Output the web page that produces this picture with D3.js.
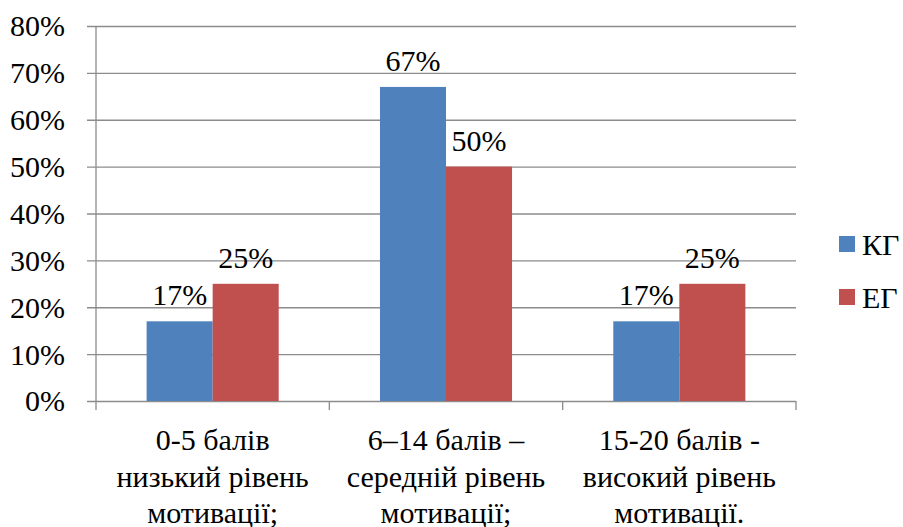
<!DOCTYPE html>
<html>
<head>
<meta charset="utf-8">
<script src="https://cdn.jsdelivr.net/npm/d3@7"></script>
<style>
  body { margin: 0; background: #fff; }
</style>
</head>
<body>
<svg id="chart" width="903" height="527"></svg>
<script>
// data
const categories = [
    ["0-5 балів", "низький рівень", "мотивації;"],
    ["6–14 балів –", "середній рівень", "мотивації;"],
    ["15-20 балів -", "високий рівень", "мотивації."]
];
const seriesNames = ["КГ", "ЕГ"];
const kgValues = [0.17, 0.67, 0.17];
const egValues = [0.25, 0.50, 0.25];
const yTicks = [0, 0.1, 0.2, 0.3, 0.4, 0.5, 0.6, 0.7, 0.8];

const colors = ["#4F81BD", "#C0504D"];
const gridColor = "#8c8c8c";
const fontName = "Liberation Serif, Tinos, Times New Roman, serif";
const fontSize = 30;

const width = 903, height = 527;
const margin = { left: 96, right: 107, top: 26, bottom: 126 };
const plotW = width - margin.left - margin.right;
const plotH = height - margin.top - margin.bottom;

const svg = d3.select("#chart")
    .attr("font-family", fontName);

const x = d3.scaleBand()
    .domain(d3.range(categories.length))
    .range([0, plotW])
    .paddingInner(0.434)
    .paddingOuter(0.217);

const xs = d3.scaleBand()
    .domain(seriesNames)
    .range([0, x.bandwidth()]);

const y = d3.scaleLinear()
    .domain([0, 0.8])
    .range([plotH, 0]);

const g = svg.append("g")
    .attr("transform", `translate(${margin.left},${margin.top})`);

// gridlines + y axis
const yAxis = g.append("g")
    .call(d3.axisLeft(y).tickValues(yTicks).tickSize(-plotW).tickFormat(d3.format(".0%")).tickPadding(31));
yAxis.attr("font-family", fontName).attr("font-size", fontSize);
yAxis.select(".domain").remove();
yAxis.selectAll(".tick line")
    .attr("x1", -9)
    .attr("stroke", gridColor)
    .attr("stroke-width", 1.3);
yAxis.selectAll(".tick text")
    .attr("fill", "#000")
    .attr("dy", "0.33em");

g.append("line")
    .attr("x1", 0).attr("x2", 0)
    .attr("y1", 0).attr("y2", plotH)
    .attr("stroke", gridColor)
    .attr("stroke-width", 1.3);

// category separators on x axis
const step = plotW / categories.length;
g.append("g")
    .selectAll("line")
    .data(d3.range(categories.length + 1))
    .join("line")
    .attr("x1", d => d * step).attr("x2", d => d * step)
    .attr("y1", plotH).attr("y2", plotH + 9)
    .attr("stroke", gridColor)
    .attr("stroke-width", 1.3);

// bars
const rows = categories.map((c, i) => [
    { s: seriesNames[0], v: kgValues[i], c: colors[0] },
    { s: seriesNames[1], v: egValues[i], c: colors[1] }
]);

const groups = g.selectAll(".grp")
    .data(rows)
    .join("g")
    .attr("class", "grp")
    .attr("transform", (d, i) => `translate(${x(i)},0)`);

groups.selectAll("rect")
    .data(d => d)
    .join("rect")
    .attr("x", d => xs(d.s))
    .attr("y", d => y(d.v))
    .attr("width", xs.bandwidth())
    .attr("height", d => plotH - y(d.v))
    .attr("fill", d => d.c);

groups.selectAll(".lbl")
    .data(d => d)
    .join("text")
    .attr("class", "lbl")
    .attr("x", d => xs(d.s) + xs.bandwidth() / 2)
    .attr("y", d => y(d.v) - 16)
    .attr("text-anchor", "middle")
    .attr("font-size", fontSize)
    .text(d => Math.round(d.v * 100) + "%");

// category labels
const catLabels = g.append("g")
    .selectAll("text")
    .data(categories)
    .join("text")
    .attr("text-anchor", "middle")
    .attr("x", (d, i) => x(i) + x.bandwidth() / 2)
    .attr("y", plotH + 49)
    .attr("font-size", fontSize);

catLabels.selectAll("tspan")
    .data(d => d)
    .join("tspan")
    .attr("x", function () { return d3.select(this.parentNode).attr("x"); })
    .attr("dy", (d, i) => i === 0 ? 0 : 36.5)
    .text(d => d);

// legend
const legend = svg.append("g")
    .attr("transform", "translate(839,236)");

const li = legend.selectAll("g")
    .data(seriesNames)
    .join("g")
    .attr("transform", (d, i) => `translate(0,${i * 53})`);

li.append("rect")
    .attr("width", 16).attr("height", 16)
    .attr("fill", (d, i) => colors[i]);

li.append("text")
    .attr("x", 23)
    .attr("y", 8)
    .attr("dy", "0.35em")
    .attr("font-size", fontSize)
    .text(d => d);
</script>
</body>
</html>
